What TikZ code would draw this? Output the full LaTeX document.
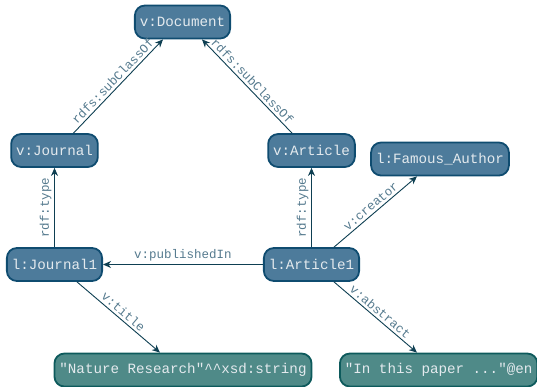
\documentclass[tikz,border=0pt]{standalone}
\usepackage{fontspec}
\setmonofont{Liberation Mono}
\usetikzlibrary{arrows.meta}
\definecolor{nfill}{HTML}{4D7B9B}
\definecolor{ndraw}{HTML}{0F4C70}
\definecolor{lfill}{HTML}{4F8A88}
\definecolor{ldraw}{HTML}{0D5A5C}
\definecolor{ntext}{HTML}{E4EAEE}
\definecolor{edgec}{HTML}{0E3F52}
\definecolor{labc}{HTML}{557A8E}
\begin{document}
\begin{tikzpicture}[x=1pt,y=-1pt,
 res/.style={draw=ndraw, fill=nfill, line width=1.8pt, rounded corners=10pt, text=ntext,
   font=\ttfamily\fontsize{14.2}{16}\selectfont, inner xsep=5pt, minimum height=33pt},
 lit/.style={res, draw=ldraw, fill=lfill},
 edge/.style={draw=edgec, line width=0.9pt, -{Stealth[length=8pt,width=7pt,inset=2.5pt]}},
 lab/.style={text=labc, font=\ttfamily\fontsize{12.5}{14}\selectfont, sloped, above, inner sep=2.5pt}]
\useasboundingbox (0,0) rectangle (537,386);
\node[res] (doc) at (182.5,22) {v:Document};
\node[res] (jr) at (54.5,150.5) {v:Journal};
\node[res] (ar) at (311.5,150.5) {v:Article};
\node[res] (fa) at (440,159) {l:Famous\_Author};
\node[res] (j1) at (54.5,264.5) {l:Journal1};
\node[res] (a1) at (311.5,264.5) {l:Article1};
\node[lit] (nat) at (183,370) {"Nature Research"\^{}\^{}xsd:string};
\node[lit, anchor=west] (abs) at (339,370) {"In this paper ..."@en};

\draw[edge] ([xshift=19pt]jr.north) -- node[lab] {rdfs:subClassOf} ([xshift=-19.5pt]doc.south);
\draw[edge] ([xshift=-19.5pt]ar.north) -- node[lab] {rdfs:subClassOf} ([xshift=19.5pt]doc.south);
\draw[edge] (j1.north) -- node[lab] {rdf:type} (jr.south);
\draw[edge] (a1.north) -- node[lab] {rdf:type} (ar.south);
\draw[edge] (a1.west) -- node[lab] {v:publishedIn} (j1.east);
\draw[edge] ([xshift=22.5pt]a1.north) -- node[lab] {v:creator} ([xshift=-23pt]fa.south);
\draw[edge] ([xshift=22.5pt]j1.south) -- node[lab] {v:title} ([xshift=-23pt]nat.north);
\draw[edge] ([xshift=22.5pt]a1.south) -- node[lab] {v:abstract} ([xshift=78pt]abs.north west);
\end{tikzpicture}
\end{document}
